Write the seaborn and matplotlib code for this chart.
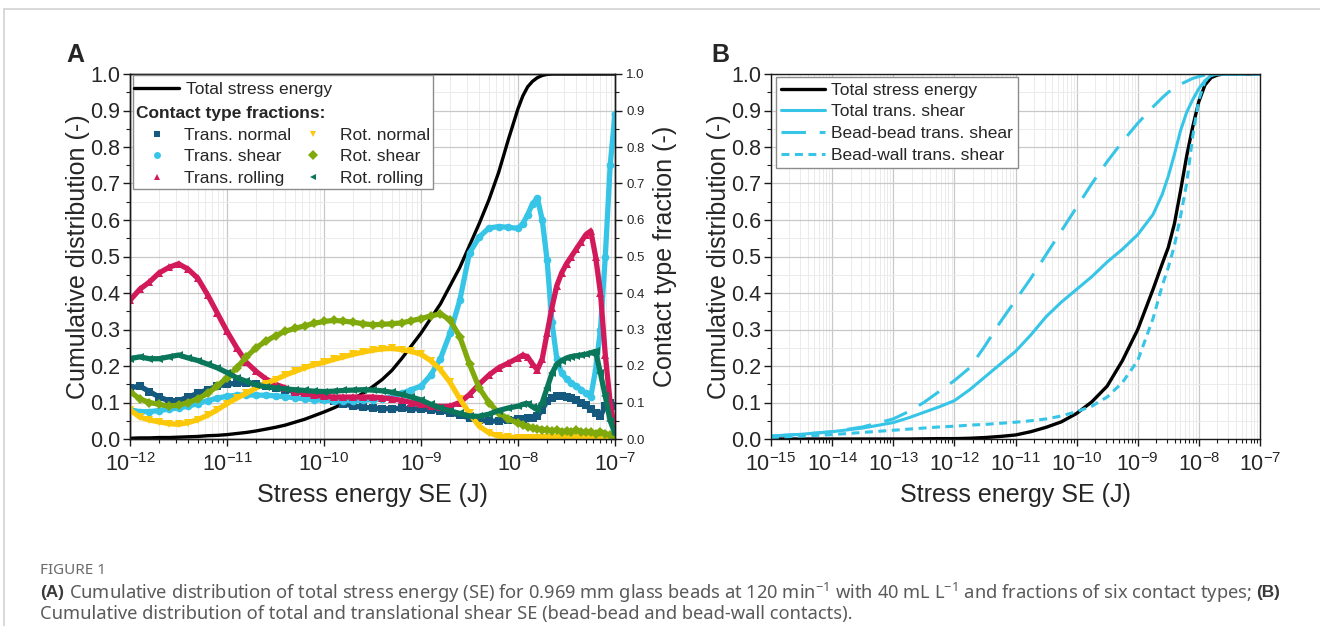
import numpy as np
import pandas as pd
import matplotlib
matplotlib.use("Agg")
import matplotlib.pyplot as plt
import seaborn as sns
from matplotlib.lines import Line2D
from matplotlib.patches import Rectangle
from matplotlib.ticker import LogLocator, MultipleLocator, NullFormatter

# ---------------- Panel A: stress-energy grid (log10 of SE in J) ----------------
LOG_SE_A = [-12.0, -11.9, -11.8, -11.7, -11.6, -11.5, -11.4, -11.3, -11.2, -11.1,
            -11.0, -10.9, -10.8, -10.7, -10.6, -10.5, -10.4, -10.3, -10.2, -10.1,
            -10.0, -9.9, -9.8, -9.7, -9.6, -9.5, -9.4, -9.3, -9.2, -9.1,
            -9.0, -8.9, -8.8, -8.7, -8.6, -8.5, -8.4, -8.3, -8.2, -8.1,
            -8.0, -7.95, -7.9, -7.85, -7.8, -7.75, -7.7, -7.65, -7.6, -7.55,
            -7.5, -7.45, -7.4, -7.35, -7.3, -7.25, -7.2, -7.15, -7.1, -7.05, -7.0]

# cumulative distribution of total stress energy
TOTAL_SE_A = [0.002, 0.003, 0.003, 0.004, 0.004, 0.005, 0.006, 0.007, 0.009, 0.010,
              0.012, 0.015, 0.018, 0.022, 0.027, 0.032, 0.038, 0.046, 0.054, 0.064,
              0.074, 0.085, 0.097, 0.110, 0.125, 0.143, 0.163, 0.188, 0.220, 0.255,
              0.290, 0.330, 0.370, 0.420, 0.470, 0.530, 0.590, 0.655, 0.730, 0.820,
              0.905, 0.940, 0.965, 0.980, 0.990, 0.996, 0.999, 1.0, 1.0, 1.0,
              1.0, 1.0, 1.0, 1.0, 1.0, 1.0, 1.0, 1.0, 1.0, 1.0, 1.0]

# contact type fractions
TRANS_NORMAL = [0.140, 0.145, 0.130, 0.115, 0.105, 0.105, 0.115, 0.125, 0.135, 0.145,
                0.150, 0.153, 0.153, 0.150, 0.145, 0.140, 0.135, 0.130, 0.125, 0.120,
                0.110, 0.105, 0.097, 0.090, 0.087, 0.085, 0.083, 0.083, 0.084, 0.083,
                0.082, 0.080, 0.078, 0.072, 0.065, 0.058, 0.052, 0.048, 0.050, 0.052,
                0.055, 0.056, 0.057, 0.057, 0.062, 0.080, 0.105, 0.112, 0.117, 0.117,
                0.115, 0.112, 0.107, 0.100, 0.092, 0.082, 0.072, 0.063, 0.090, 0.100, 0.090]
TRANS_SHEAR = [0.080, 0.075, 0.075, 0.078, 0.082, 0.085, 0.090, 0.097, 0.105, 0.112,
               0.117, 0.120, 0.121, 0.120, 0.120, 0.118, 0.116, 0.113, 0.110, 0.108,
               0.106, 0.105, 0.105, 0.105, 0.106, 0.108, 0.110, 0.115, 0.125, 0.135,
               0.145, 0.175, 0.220, 0.290, 0.380, 0.510, 0.553, 0.578, 0.582, 0.580,
               0.577, 0.590, 0.615, 0.645, 0.660, 0.600, 0.490, 0.320, 0.220, 0.180,
               0.165, 0.153, 0.145, 0.135, 0.125, 0.115, 0.190, 0.300, 0.500, 0.750, 0.890]
TRANS_ROLLING = [0.380, 0.410, 0.430, 0.455, 0.470, 0.480, 0.465, 0.440, 0.395, 0.345,
                 0.295, 0.250, 0.210, 0.185, 0.165, 0.150, 0.140, 0.130, 0.125, 0.120,
                 0.117, 0.115, 0.115, 0.115, 0.115, 0.115, 0.113, 0.110, 0.106, 0.100,
                 0.095, 0.091, 0.089, 0.090, 0.100, 0.122, 0.150, 0.175, 0.195, 0.208,
                 0.222, 0.230, 0.225, 0.205, 0.190, 0.220, 0.290, 0.360, 0.420, 0.455,
                 0.480, 0.500, 0.520, 0.540, 0.560, 0.570, 0.500, 0.400, 0.230, 0.100, 0.020]
ROT_NORMAL = [0.080, 0.060, 0.052, 0.047, 0.042, 0.040, 0.045, 0.053, 0.065, 0.080,
              0.097, 0.112, 0.125, 0.140, 0.152, 0.163, 0.175, 0.185, 0.195, 0.204,
              0.210, 0.218, 0.225, 0.232, 0.238, 0.243, 0.247, 0.248, 0.245, 0.240,
              0.232, 0.215, 0.190, 0.155, 0.110, 0.070, 0.035, 0.017, 0.008, 0.005,
              0.003, 0.003, 0.003, 0.002, 0.003, 0.002, 0.002, 0.003, 0.002, 0.002,
              0.002, 0.003, 0.002, 0.002, 0.002, 0.003, 0.002, 0.002, 0.002, 0.002, 0.002]
ROT_SHEAR = [0.130, 0.110, 0.100, 0.095, 0.090, 0.093, 0.100, 0.110, 0.125, 0.145,
             0.168, 0.195, 0.225, 0.250, 0.268, 0.283, 0.295, 0.303, 0.310, 0.317,
             0.322, 0.325, 0.323, 0.320, 0.316, 0.313, 0.314, 0.316, 0.318, 0.324,
             0.330, 0.337, 0.343, 0.326, 0.280, 0.205, 0.140, 0.100, 0.072, 0.055,
             0.043, 0.038, 0.034, 0.030, 0.028, 0.026, 0.025, 0.022, 0.025, 0.020,
             0.022, 0.020, 0.025, 0.020, 0.018, 0.020, 0.015, 0.020, 0.015, 0.010, 0.005]
ROT_ROLLING = [0.220, 0.225, 0.220, 0.220, 0.225, 0.230, 0.222, 0.215, 0.205, 0.195,
               0.182, 0.168, 0.158, 0.148, 0.143, 0.140, 0.137, 0.135, 0.133, 0.131,
               0.130, 0.131, 0.133, 0.134, 0.135, 0.134, 0.132, 0.128, 0.122, 0.115,
               0.107, 0.095, 0.085, 0.077, 0.070, 0.063, 0.062, 0.068, 0.078, 0.085,
               0.090, 0.095, 0.097, 0.088, 0.080, 0.100, 0.140, 0.180, 0.205, 0.215,
               0.222, 0.226, 0.228, 0.230, 0.232, 0.236, 0.240, 0.180, 0.117, 0.050, 0.015]

FRACTION_NAMES = ["Trans. normal", "Trans. shear", "Trans. rolling",
                  "Rot. normal", "Rot. shear", "Rot. rolling"]
FRACTION_COLORS = ["#16597f", "#36c5e6", "#d2195a", "#fcc80a", "#80a90c", "#0b775a"]
FRACTION_MARKERS = ["s", "o", "^", "v", "D", "<"]

# ---------------- Panel B ----------------
LOG_SE_B = [-15.0, -14.5, -14.0, -13.5, -13.0, -12.75, -12.5, -12.25, -12.0, -11.75,
            -11.5, -11.25, -11.0, -10.75, -10.5, -10.25, -10.0, -9.75, -9.5, -9.25,
            -9.0, -8.75, -8.6, -8.5, -8.4, -8.3, -8.2, -8.1, -8.0, -7.9,
            -7.8, -7.7, -7.6, -7.5, -7.0]
TOTAL_SE_B = [0.0, 0.0, 0.0, 0.0, 0.0, 0.0, 0.0005, 0.001, 0.001, 0.002,
              0.004, 0.007, 0.011, 0.020, 0.032, 0.047, 0.070, 0.102, 0.145, 0.215,
              0.300, 0.410, 0.480, 0.525, 0.590, 0.680, 0.775, 0.856, 0.925, 0.970,
              0.990, 0.997, 1.0, 1.0, 1.0]
TOTAL_SHEAR_B = [0.008, 0.013, 0.020, 0.030, 0.045, 0.058, 0.073, 0.088, 0.105, 0.135,
                 0.170, 0.205, 0.240, 0.285, 0.335, 0.375, 0.410, 0.445, 0.485, 0.520,
                 0.560, 0.615, 0.670, 0.720, 0.780, 0.845, 0.895, 0.930, 0.960, 0.982,
                 0.996, 1.0, 1.0, 1.0, 1.0]
BEAD_BEAD_B = [0.008, 0.013, 0.020, 0.033, 0.055, 0.075, 0.100, 0.130, 0.160, 0.195,
               0.255, 0.320, 0.380, 0.440, 0.505, 0.570, 0.635, 0.700, 0.760, 0.815,
               0.865, 0.910, 0.935, 0.950, 0.962, 0.972, 0.980, 0.988, 0.993, 0.997,
               1.0, 1.0, 1.0, 1.0, 1.0]
BEAD_WALL_B = [0.004, 0.008, 0.012, 0.018, 0.024, 0.027, 0.030, 0.033, 0.035, 0.038,
               0.040, 0.043, 0.046, 0.050, 0.055, 0.063, 0.075, 0.090, 0.115, 0.155,
               0.215, 0.330, 0.420, 0.470, 0.530, 0.610, 0.700, 0.830, 0.930, 0.980,
               0.997, 1.0, 1.0, 1.0, 1.0]

CYAN = "#36c5e6"

CAPTION_TITLE = "FIGURE 1"
CAPTION_LINE1 = [("(A)", "bold"),
                 ("Cumulative distribution of total stress energy (SE) for 0.969 mm glass beads "
                  "at 120 min$^{-1}$ with 40 mL L$^{-1}$ and fractions of six contact types;", "normal"),
                 ("(B)", "bold")]
CAPTION_LINE2 = "Cumulative distribution of total and translational shear SE (bead-bead and bead-wall contacts)."

# ---------------- style ----------------
sns.set_theme(style="white")
plt.rcParams.update({
    "font.family": ["Liberation Sans", "DejaVu Sans"],
    "mathtext.fontset": "custom",
    "mathtext.rm": "Noto Sans",
    "mathtext.bf": "Liberation Sans:bold",
    "mathtext.it": "Noto Sans:italic",
    "axes.unicode_minus": False,
    "axes.edgecolor": "#1a1a1a",
    "axes.linewidth": 1.0,
})

W, H = 1320, 626
fig = plt.figure(figsize=(W / 100, H / 100), dpi=100)


def fig_rect(left, top, right, bottom):
    return [left / W, 1 - bottom / H, (right - left) / W, (bottom - top) / H]


axA = fig.add_axes(fig_rect(130, 74, 615, 439))
axB = fig.add_axes(fig_rect(771, 74, 1260, 439))


def style_axes(ax, lo, hi):
    ax.set_xscale("log")
    ax.set_xlim(10.0 ** lo, 10.0 ** hi)
    ax.set_ylim(0, 1)
    ax.xaxis.set_major_locator(LogLocator(base=10, numticks=30))
    ax.xaxis.set_minor_locator(LogLocator(base=10, subs=np.arange(2, 10), numticks=300))
    ax.xaxis.set_minor_formatter(NullFormatter())
    ax.yaxis.set_major_locator(MultipleLocator(0.1))
    ax.yaxis.set_minor_locator(MultipleLocator(0.05))
    ax.yaxis.set_major_formatter(lambda v, p: f"{v:.1f}")
    ax.grid(which="major", color="#c8c8c8", lw=0.9)
    ax.grid(which="minor", color="#ebebeb", lw=0.7)
    ax.set_axisbelow(True)
    ax.tick_params(which="major", direction="out", length=5, width=1.0, labelsize=15.5,
                   bottom=True, left=True, top=False, right=False, color="#1a1a1a")
    ax.tick_params(axis="x", which="major", pad=5)
    ax.tick_params(axis="y", which="major", pad=2)
    ax.tick_params(which="minor", direction="out", length=3, width=0.8,
                   bottom=True, left=True, top=False, right=False, color="#1a1a1a")
    for s in ax.spines.values():
        s.set_visible(True)
        s.set_color("#1a1a1a")
    ax.set_xlabel("Stress energy SE (J)", fontsize=18, labelpad=5)
    ax.set_ylabel("Cumulative distribution (-)", fontsize=18, labelpad=0)


# ---------------- Panel A ----------------
df_a = pd.DataFrame({"SE": 10.0 ** np.array(LOG_SE_A), "Total": TOTAL_SE_A})
fractions = [TRANS_NORMAL, TRANS_SHEAR, TRANS_ROLLING, ROT_NORMAL, ROT_SHEAR, ROT_ROLLING]
for name, vals in zip(FRACTION_NAMES, fractions):
    df_a[name] = vals

sns.lineplot(data=df_a, x="SE", y="Total", color="black", linewidth=2.4, ax=axA)
style_axes(axA, -12, -7)

axA2 = axA.twinx()
for name, color, marker in zip(FRACTION_NAMES, FRACTION_COLORS, FRACTION_MARKERS):
    sns.lineplot(data=df_a, x="SE", y=name, color=color, linewidth=3.8, marker=marker,
                 markersize=5.5, markeredgewidth=0, ax=axA2)
axA2.set_ylim(0, 1)
axA2.yaxis.set_major_locator(MultipleLocator(0.1))
axA2.yaxis.set_minor_locator(MultipleLocator(0.05))
axA2.yaxis.set_major_formatter(lambda v, p: f"{v:.1f}")
axA2.tick_params(which="major", direction="out", length=5, width=1.0, labelsize=9.5,
                 right=True, pad=3, color="#1a1a1a")
axA2.tick_params(which="minor", direction="out", length=3, width=0.8, right=True, color="#1a1a1a")
axA2.set_ylabel("Contact type fraction (-)", fontsize=18, labelpad=6)
axA2.set_xlabel("")
axA.set_xlabel("Stress energy SE (J)", fontsize=18, labelpad=5)

# legend box of panel A
axA2.add_patch(Rectangle((0.006, 0.685), 0.619, 0.313, transform=axA2.transAxes,
                         facecolor="white", edgecolor="#8c8c8c", lw=1.0, zorder=4))
leg_line = axA2.legend(handles=[Line2D([], [], color="black", lw=2.4)],
                       labels=["Total stress energy"], loc="upper left",
                       bbox_to_anchor=(0.008, 0.979), borderaxespad=0, borderpad=0,
                       frameon=False, fontsize=12.5, handlelength=2.6, handletextpad=0.4)
axA2.add_artist(leg_line)
frac_handles = [Line2D([], [], color=c, marker=m, linestyle="none", markersize=5,
                       markeredgewidth=0)
                for c, m in zip(FRACTION_COLORS, FRACTION_MARKERS)]
leg_frac = axA2.legend(handles=frac_handles, labels=FRACTION_NAMES, ncol=2,
                       title="Contact type fractions:", alignment="left",
                       title_fontproperties={"weight": "bold", "size": 12.5},
                       loc="upper left", bbox_to_anchor=(0.0124, 0.912),
                       borderaxespad=0, borderpad=0, frameon=False, fontsize=12.5,
                       handlelength=2.4, handletextpad=0.35, columnspacing=0.1,
                       labelspacing=0.37)

# ---------------- Panel B ----------------
df_b = pd.DataFrame({"SE": 10.0 ** np.array(LOG_SE_B), "Total": TOTAL_SE_B,
                     "Shear": TOTAL_SHEAR_B, "BeadBead": BEAD_BEAD_B, "BeadWall": BEAD_WALL_B})
sns.lineplot(data=df_b, x="SE", y="Total", color="black", linewidth=2.4, ax=axB,
             label="Total stress energy")
sns.lineplot(data=df_b, x="SE", y="Shear", color=CYAN, linewidth=2.2, ax=axB,
             label="Total trans. shear")
sns.lineplot(data=df_b, x="SE", y="BeadBead", color=CYAN, linewidth=2.2, ax=axB,
             dashes=(8, 4.5), label="Bead-bead trans. shear")
sns.lineplot(data=df_b, x="SE", y="BeadWall", color=CYAN, linewidth=2.2, ax=axB,
             dashes=(2.6, 1.8), label="Bead-wall trans. shear")
style_axes(axB, -15, -7)
legB = axB.legend(loc="upper left", bbox_to_anchor=(0.01, 0.992), borderaxespad=0,
                  borderpad=0.32, fontsize=12.5, handlelength=2.5, handletextpad=0.35,
                  labelspacing=0.38, frameon=True, fancybox=False, framealpha=1)
legB.get_frame().set_edgecolor("#8c8c8c")
legB.get_frame().set_linewidth(1.0)

# ---------------- panel letters, caption and card border ----------------
fig.text(66 / W, 1 - 62 / H, "A", fontsize=18, fontweight="bold", va="baseline")
fig.text(711 / W, 1 - 62 / H, "B", fontsize=18, fontweight="bold", va="baseline")

CAP_SIZE = 13.2
fig.text(40 / W, 1 - 571 / H, CAPTION_TITLE, fontsize=11, color="#6a6a6a",
         family="Noto Sans", va="center")

renderer = fig.canvas.get_renderer()
probe = fig.text(0, 0, "a a", fontsize=CAP_SIZE, family="Noto Sans")
probe2 = fig.text(0, 0, "aa", fontsize=CAP_SIZE, family="Noto Sans")
space_w = (probe.get_window_extent(renderer).width
           - probe2.get_window_extent(renderer).width)
probe.remove()
probe2.remove()

x_px = 40.0
for text, weight in CAPTION_LINE1:
    bold = weight == "bold"
    t = fig.text(x_px / W, 1 - 593 / H, text, fontsize=CAP_SIZE - (0.8 if bold else 0),
                 fontweight=weight, color="#3a3a3a" if bold else "#5a5a5a",
                 family="Liberation Sans" if bold else "Noto Sans", va="center")
    x_px += t.get_window_extent(renderer).width + space_w
fig.text(40 / W, 1 - 614 / H, CAPTION_LINE2, fontsize=CAP_SIZE, color="#5a5a5a",
         family="Noto Sans", va="center")

fig.add_artist(Line2D([4 / W, 1], [1 - 9 / H, 1 - 9 / H], transform=fig.transFigure,
                      color="#d2d2d2", lw=1.2))
fig.add_artist(Line2D([4 / W, 4 / W], [0, 1 - 9 / H], transform=fig.transFigure,
                      color="#d2d2d2", lw=1.2))

fig.savefig("out.png", dpi=100, facecolor="white")
